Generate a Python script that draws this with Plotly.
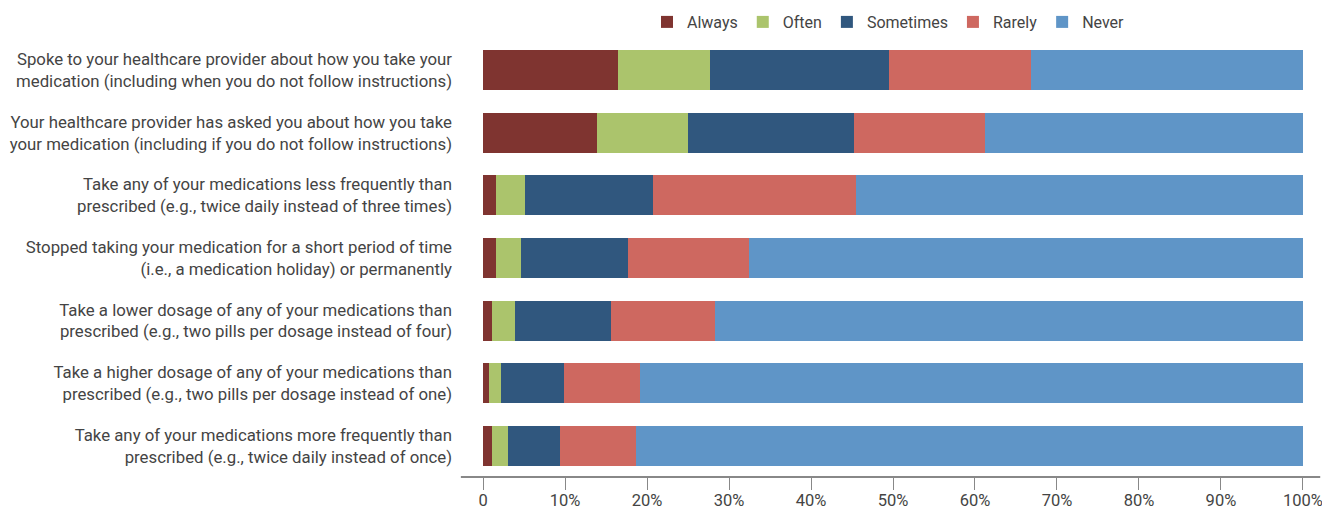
import plotly.graph_objects as go

categories = [
    "Spoke to your healthcare provider about how you take your<br>medication (including when you do not follow instructions)",
    "Your healthcare provider has asked you about how you take<br>your medication (including if you do not follow instructions)",
    "Take any of your medications less frequently than<br>prescribed (e.g., twice daily instead of three times)",
    "Stopped taking your medication for a short period of time<br>(i.e., a medication holiday) or permanently",
    "Take a lower dosage of any of your medications than<br>prescribed (e.g., two pills per dosage instead of four)",
    "Take a higher dosage of any of your medications than<br>prescribed (e.g., two pills per dosage instead of one)",
    "Take any of your medications more frequently than<br>prescribed (e.g., twice daily instead of once)",
]

always = [16.5, 13.9, 1.6, 1.6, 1.1, 0.7, 1.1]
often = [11.2, 11.1, 3.5, 3.0, 2.8, 1.5, 1.9]
sometimes = [21.8, 20.2, 15.6, 13.1, 11.7, 7.7, 6.4]
rarely = [17.3, 16.0, 24.8, 14.7, 12.7, 9.2, 9.3]
never = [33.2, 38.8, 54.5, 67.6, 71.7, 80.9, 81.3]

series_names = ["Always", "Often", "Sometimes", "Rarely", "Never"]
series_values = [always, often, sometimes, rarely, never]
colors = ["#7F3430", "#ABC46C", "#30577E", "#CE6860", "#5F95C7"]

tick_vals = [0, 10, 20, 30, 40, 50, 60, 70, 80, 90, 100]
tick_text = ["0", "10%", "20%", "30%", "40%", "50%", "60%", "70%", "80%", "90%", "100%"]

FONT = "Roboto, Arial, sans-serif"

fig = go.Figure()
for name, vals, col in zip(series_names, series_values, colors):
    fig.add_trace(go.Bar(
        y=categories, x=vals, name=name, orientation="h",
        marker=dict(color=col, line=dict(width=0)),
    ))

fig.update_layout(
    barmode="stack",
    bargap=0.362,
    width=1322, height=513,
    margin=dict(l=483, r=19, t=39, b=36, autoexpand=False),
    paper_bgcolor="white", plot_bgcolor="white",
    font=dict(family=FONT, size=17, color="#444444"),
    legend=dict(
        orientation="h", x=0.2, xanchor="left",
        yref="container", y=1 - 22 / 513, yanchor="middle",
        font=dict(family=FONT, size=16, color="#444444"),
        traceorder="normal", itemwidth=30,
    ),
    showlegend=True,
)

fig.update_xaxes(
    range=[-0.01, 100.01], tickvals=tick_vals, ticktext=tick_text,
    showgrid=False, zeroline=False, showline=False, automargin=False,
    ticks="outside", ticklen=12, tickcolor="#888888", tickwidth=1,
    ticklabelstandoff=-4, ticklabeloverflow="allow",
    tickfont=dict(family=FONT, size=16.5, color="#444444"),
)
fig.update_yaxes(
    categoryorder="array", categoryarray=categories, autorange="reversed",
    showgrid=False, zeroline=False, showline=False, ticks="", automargin=False,
    ticklabelstandoff=30,
    tickfont=dict(family=FONT, size=16.8, color="#444444"),
)

fig.add_shape(type="line", xref="paper", yref="paper",
              x0=-0.027, x1=1.021, y0=0, y1=0,
              line=dict(color="#888888", width=2))

fig.write_html("out.html")
